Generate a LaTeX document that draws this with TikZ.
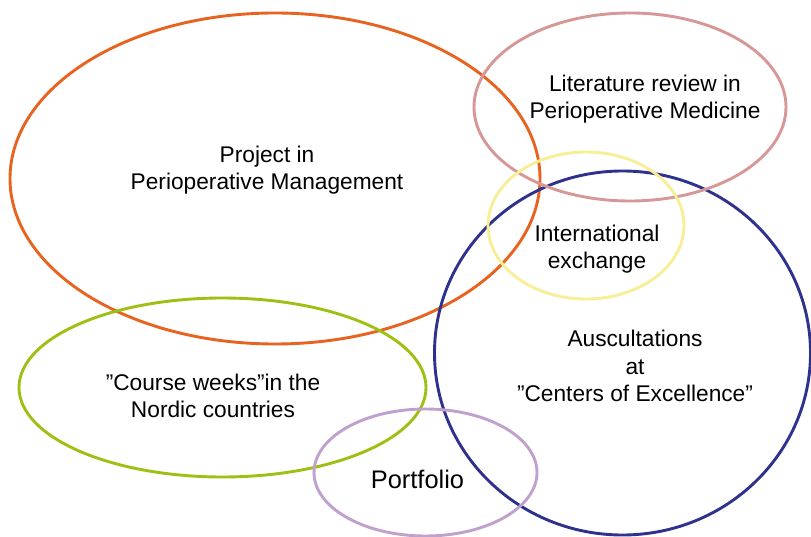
\documentclass[tikz,border=0pt]{standalone}
\usepackage{fontspec}
\setmainfont{Liberation Sans}
\usetikzlibrary{shapes.geometric}
\definecolor{corange}{RGB}{232,98,32}
\definecolor{cpink}{RGB}{214,152,150}
\definecolor{cyellow}{RGB}{248,238,150}
\definecolor{cblue}{RGB}{46,50,140}
\definecolor{cgreen}{RGB}{158,192,18}
\definecolor{cpurple}{RGB}{192,160,205}
\tikzset{
  ring/.style={draw=#1, ellipse, line width=2.9pt, inner sep=0pt, outer sep=0pt},
  lbl/.style={align=center, font=\fontsize{22.7}{27.2}\selectfont, text=black, inner sep=0pt}
}
\begin{document}
\begin{tikzpicture}[x=1pt,y=-1pt]
\useasboundingbox (0,0) rectangle (811,537);
\fill[white] (0,0) rectangle (811,537);
\node[ring=corange, minimum width=530pt, minimum height=331pt] (proj) at (275,178.5) {};
\node[ring=cgreen, minimum width=407pt, minimum height=179pt] (course) at (222.5,387.5) {};
\node[ring=cblue, minimum width=376pt, minimum height=364pt] (ausc) at (622.5,353) {};
\node[ring=cpink, minimum width=312pt, minimum height=188pt] (lit) at (630,107) {};
\node[ring=cyellow, minimum width=196pt, minimum height=147pt] (intl) at (586,225.5) {};
\node[ring=cpurple, minimum width=223pt, minimum height=127pt] (port) at (425.5,472.5) {};
\node[lbl] (tproj) at (267,170) {Project in\\Perioperative Management};
\node[lbl] (tlit) at (645,99) {Literature review in\\Perioperative Medicine};
\node[lbl] (tintl) at (597,249) {International\\exchange};
\node[lbl] (tausc) at (635,366) {Auscultations\\at\\”Centers of Excellence”};
\node[lbl] (tcourse) at (213,396) {”Course weeks”in the\\Nordic countries};
\node[lbl, font=\fontsize{25.4}{30}\selectfont] (tport) at (417.5,479.5) {Portfolio};
\end{tikzpicture}
\end{document}
